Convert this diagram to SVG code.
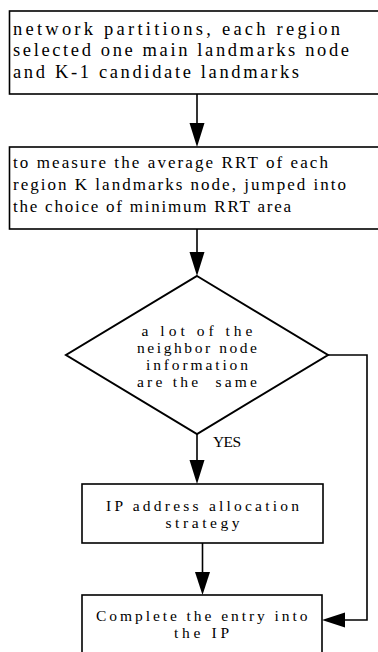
<svg xmlns="http://www.w3.org/2000/svg" width="378" height="652" viewBox="0 0 378 652">
<style>
.box{fill:#fff;stroke:#000;stroke-width:1.6}
.dia{fill:#fff;stroke:#000;stroke-width:2}
.ln{fill:none;stroke:#000;stroke-width:1.6}
.hd{fill:#000;stroke:none}
text{font-family:"Liberation Serif","Noto Sans CJK SC",serif;font-size:15.5px;fill:#000}
.big{font-size:18.5px}
.mid{font-size:17px}
.c{text-anchor:middle}
</style>
<rect width="378" height="652" fill="#fff"/>
<g id="n1">
<rect class="box" x="9.5" y="11" width="380" height="83"/>
<text class="big" x="13" y="34.5" textLength="327" lengthAdjust="spacing">network partitions, each region</text>
<text class="big" x="13" y="56" textLength="336" lengthAdjust="spacing">selected one main landmarks node</text>
<text class="big" x="13" y="77.5" textLength="286" lengthAdjust="spacing">and K-1 candidate landmarks</text>
</g>
<g id="n2">
<rect class="box" x="9.5" y="147" width="380" height="82"/>
<text class="mid" x="13" y="167.5" textLength="315" lengthAdjust="spacing">to measure the average RRT of each</text>
<text class="mid" x="13" y="189.5" textLength="333" lengthAdjust="spacing">region K landmarks node, jumped into</text>
<text class="mid" x="13" y="211.5" textLength="278" lengthAdjust="spacing">the choice of minimum RRT area</text>
</g>
<g id="n3">
<polygon class="dia" points="197,276 328,355 197,434 66,355"/>
<text x="141.5" y="336" textLength="111" lengthAdjust="spacing">a lot of the</text>
<text x="137" y="353" textLength="120" lengthAdjust="spacing">neighbor node</text>
<text x="146" y="370" textLength="102" lengthAdjust="spacing">information</text>
<text x="137" y="387" textLength="120" lengthAdjust="spacing" xml:space="preserve">are the  same</text>
</g>
<g id="n4">
<rect class="box" x="82" y="484" width="241" height="59"/>
<text x="106" y="511" textLength="193" lengthAdjust="spacing">IP address allocation</text>
<text x="165.5" y="528" textLength="74" lengthAdjust="spacing">strategy</text>
</g>
<g id="n5">
<rect class="box" x="82" y="595" width="240" height="70"/>
<text x="96" y="621" textLength="211.5" lengthAdjust="spacing">Complete the entry into</text>
<text x="174" y="638" textLength="55" lengthAdjust="spacing">the IP</text>
</g>
<g id="connectors">
<line class="ln" x1="197" y1="94" x2="197" y2="124"/>
<polygon class="hd" points="189.5,123 204.5,123 197,147"/>
<line class="ln" x1="197" y1="229" x2="197" y2="253"/>
<polygon class="hd" points="189.5,252 204.5,252 197,276"/>
<line class="ln" x1="197" y1="434" x2="197" y2="461"/>
<polygon class="hd" points="189.5,460 204.5,460 197,484"/>
<text x="213" y="447" textLength="28" lengthAdjust="spacing">YES</text>
<line class="ln" x1="202.5" y1="543" x2="202.5" y2="573"/>
<polygon class="hd" points="195,572 210,572 202.5,595"/>
<polyline class="ln" points="328,355 367,355 367,620 344,620"/>
<polygon class="hd" points="345,612.5 345,627.5 322,620"/>
</g>
</svg>
